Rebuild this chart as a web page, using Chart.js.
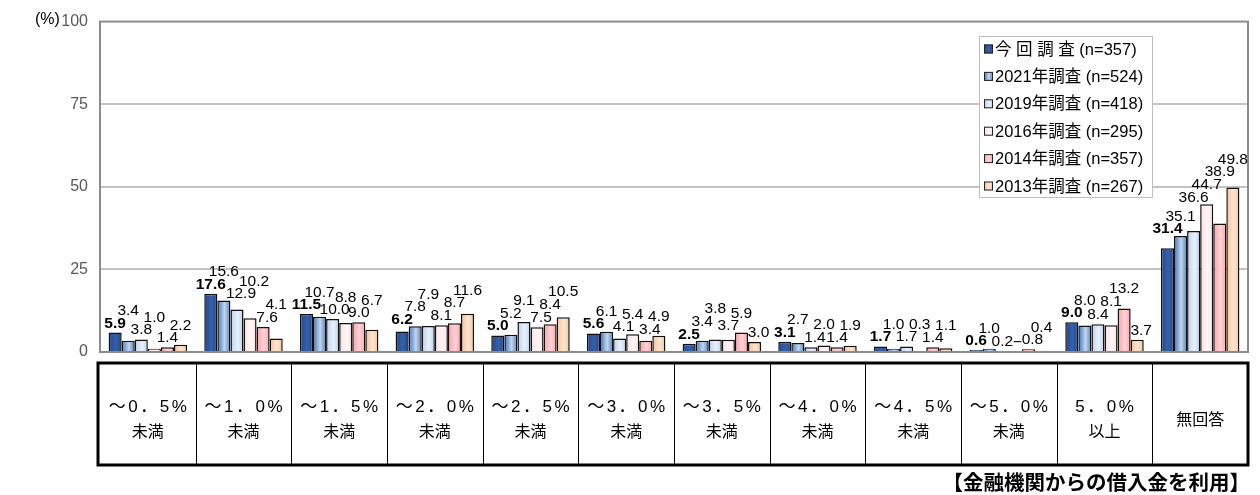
<!DOCTYPE html>
<html><head><meta charset="utf-8">
<script src="https://cdn.jsdelivr.net/npm/chart.js@4.4.1/dist/chart.umd.min.js"></script>
<style>html,body{margin:0;padding:0;background:#fff;} #wrap{position:relative;width:1260px;height:495px;}</style>
</head><body><div id="wrap"><canvas id="c" width="1260" height="495"></canvas></div>
<script>
// ---- data ----
const categories = [["～0．5%","未満"],["～1．0%","未満"],["～1．5%","未満"],["～2．0%","未満"],["～2．5%","未満"],["～3．0%","未満"],["～3．5%","未満"],["～4．0%","未満"],["～4．5%","未満"],["～5．0%","未満"],["5．0%","以上"],["無回答"]];
const seriesNames = ["今 回 調 査 (n=357)","2021年調査 (n=524)","2019年調査 (n=418)","2016年調査 (n=295)","2014年調査 (n=357)","2013年調査 (n=267)"];
const current = [5.9,17.6,11.5,6.2,5.0,5.6,2.5,3.1,1.7,0.6,9.0,31.4];
const y2021   = [3.4,15.6,10.7,7.8,5.2,6.1,3.4,2.7,1.0,1.0,8.0,35.1];
const y2019   = [3.8,12.9,10.0,7.9,9.1,4.1,3.8,1.4,1.7,0.2,8.4,36.6];
const y2016   = [1.0,10.2,8.8,8.1,7.5,5.4,3.7,2.0,0.3,null,8.1,44.7];
const y2014   = [1.4,7.6,9.0,8.7,8.4,3.4,5.9,1.4,1.4,0.8,13.2,38.9];
const y2013   = [2.2,4.1,6.7,11.6,10.5,4.9,3.0,1.9,1.1,0.4,3.7,49.8];
const yTicks = [0,25,50,75,100];
const unitLabel = "(%)";
const footnote = "【金融機関からの借入金を利用】";
const missingLabel = "−";

// ---- styles ----
const seriesData = [current,y2021,y2019,y2016,y2014,y2013];
const gradStops = [
  ["#25468a","#3561aa","#25468a"],
  ["#3f72b8","#c3d6ef","#4f7fc0"],
  ["#b9d0ee","#e9f1fb","#bcd2ee"],
  ["#fcdde0","#fff6f7","#fde0e3"],
  ["#ff9fa6","#ffd3d6","#ffa3aa"],
  ["#f7c095","#fde6d2","#f8c49b"]
];
const LABEL_FONT = '"Liberation Sans", Arial, sans-serif';
const JP_FONT = '"Liberation Sans", "Noto Sans CJK JP", sans-serif';

function makeGrad(ctx, x0, x1, stops){
  const g = ctx.createLinearGradient(x0,0,x1,0);
  g.addColorStop(0,stops[0]); g.addColorStop(0.55,stops[1]); g.addColorStop(1,stops[2]);
  return g;
}

const gradientPlugin = {
  id:'grad',
  beforeDatasetsDraw(chart){
    const ctx = chart.ctx;
    chart.data.datasets.forEach((ds,d)=>{
      chart.getDatasetMeta(d).data.forEach(el=>{
        if(!isFinite(el.x) || !isFinite(el.width)) return;
        const g = makeGrad(ctx, el.x-el.width/2, el.x+el.width/2, gradStops[d]);
        el.options = Object.assign({}, el.options, {backgroundColor:g});
      });
    });
  }
};

const framePlugin = {
  id:'frame',
  beforeDatasetsDraw(chart){
    const {ctx, chartArea:a} = chart;
    ctx.save();
    ctx.strokeStyle = '#8c8c8c'; ctx.lineWidth = 2;
    ctx.strokeRect(a.left, a.top, a.right-a.left, a.bottom-a.top);
    ctx.restore();
  }
};

const labelPlugin = {
  id:'labels',
  afterDatasetsDraw(chart){
    const ctx = chart.ctx, ys = chart.scales.y;
    const zero = ys.getPixelForValue(0);
    const placed = [];
    for(let d=0; d<seriesData.length; d++){
      chart.getDatasetMeta(d).data.forEach((el,i)=>{
        if(seriesData[d][i]==null || !isFinite(el.y)) return;
        placed.push({l:el.x-el.width/2, r:el.x+el.width/2, t:el.y-1, b:zero});
      });
    }
    const hit = (b)=> placed.some(p => b.l < p.r && b.r > p.l && b.t < p.b + 1 && b.b + 1 > p.t);
    ctx.save();
    ctx.textAlign='center'; ctx.textBaseline='alphabetic'; ctx.fillStyle='#000';
    for(let i=0;i<categories.length;i++){
      for(let d=0; d<seriesData.length; d++){
        const el = chart.getDatasetMeta(d).data[i];
        const v = seriesData[d][i];
        const txt = v==null ? missingLabel : v.toFixed(1);
        ctx.font = (d===0?'bold ':'') + '15.5px ' + LABEL_FONT;
        const w = ctx.measureText(txt).width;
        const top = v==null ? zero : el.y;
        const mk = (cx, by)=>({l:cx-w/2+1, r:cx+w/2-1, t:by-11, b:by});
        let x = el.x, yb = top - 5, box = null;
        search:
        for(let dy=0; dy<120; dy++){
          for(const dx of [0,2,-2,4]){
            const b = mk(el.x+dx, top-5-dy);
            if(!hit(b)){ x = el.x+dx; yb = top-5-dy; box=b; break search; }
          }
        }
        if(!box) box = mk(x,yb);
        placed.push(box);
        ctx.fillText(txt, x, yb);
      }
    }
    ctx.restore();
  }
};

const tablePlugin = {
  id:'table',
  afterDraw(chart){
    const {ctx, chartArea:a} = chart;
    const xs = chart.scales.x;
    const n = categories.length;
    const cw = (a.right - a.left)/n;
    const top = 363, bottom = 465, left = a.left-2, right = a.right;
    ctx.save();
    ctx.strokeStyle='#000';
    ctx.lineWidth = 1;
    for(let i=1;i<n;i++){
      const x = Math.round(xs.getPixelForValue(i) - cw/2)+0.5;
      ctx.beginPath(); ctx.moveTo(x, top); ctx.lineTo(x, bottom); ctx.stroke();
    }
    ctx.lineWidth = 3;
    ctx.strokeRect(left, top, right-left, bottom-top);
    ctx.fillStyle='#000'; ctx.textAlign='center'; ctx.textBaseline='middle';
    const mid = 419;
    categories.forEach((lines,i)=>{
      const cx = xs.getPixelForValue(i);
      const lh = 23;
      const y0 = mid - (lines.length-1)*lh/2;
      lines.forEach((t,k)=>{
        const spaced = /[0-9]/.test(t);
        if(spaced){
          ctx.font = '17px "Liberation Sans", "Noto Sans CJK JP", sans-serif';
          ctx.letterSpacing = '2.5px';
        } else {
          ctx.font = '16px "Noto Sans CJK JP", sans-serif';
          ctx.letterSpacing = '0px';
        }
        ctx.fillText(t, cx + (spaced?1.25:0), y0 + k*lh);
      });
    });
    ctx.letterSpacing = '0px';
    ctx.textAlign='right'; ctx.textBaseline='middle';
    ctx.font = 'bold 20.5px "Noto Sans CJK JP", sans-serif';
    ctx.fillText(footnote, 1250, 482);
    ctx.textAlign='left';
    ctx.font = '16px "Liberation Sans", sans-serif';
    ctx.fillText(unitLabel, 35, 20);
    const lx=979, ly=36, lw=173, lhB=161;
    ctx.fillStyle='#fff'; ctx.fillRect(lx,ly,lw,lhB);
    ctx.strokeStyle='#bfbfbf'; ctx.lineWidth=1;
    ctx.strokeRect(lx+0.5,ly+0.5,lw,lhB);
    ctx.font = '16.5px ' + JP_FONT;
    ctx.textBaseline='middle'; ctx.textAlign='left';
    seriesNames.forEach((name,d)=>{
      const cy = ly + 13 + d*27.4;
      ctx.fillStyle = makeGrad(ctx, lx+5, lx+14, gradStops[d]);
      ctx.fillRect(lx+5, cy-4.5, 9, 9);
      ctx.strokeStyle='#222'; ctx.lineWidth=1;
      ctx.strokeRect(lx+5.5, cy-4, 8, 8);
      ctx.fillStyle='#000';
      ctx.fillText(name, lx+16, cy+1);
    });
    ctx.restore();
  }
};

new Chart(document.getElementById('c'), {
  type:'bar',
  data:{
    labels: categories.map(c=>c.join('')),
    datasets: seriesNames.map((name,d)=>({
      label:name, data:seriesData[d],
      backgroundColor: gradStops[d][1],
      borderColor:'#111', borderWidth:1.5,
      categoryPercentage:0.82, barPercentage:1.0
    }))
  },
  options:{
    responsive:false, animation:false, devicePixelRatio:1,
    layout:{padding:{top:19,right:12,bottom:143,left:0}},
    plugins:{legend:{display:false}, tooltip:{enabled:false}},
    scales:{
      x:{display:false},
      y:{
        min:0,max:100,
        afterFit(s){ s.width = 100; },
        afterBuildTicks(s){ s.ticks = yTicks.map(v=>({value:v})); },
        border:{display:false},
        grid:{drawTicks:false, lineWidth:2, color:(c)=> (c.tick && (c.tick.value===0||c.tick.value===100)) ? 'rgba(0,0,0,0)' : '#c3c3c3'},
        ticks:{padding:12, color:'#595959', font:{family:'"Liberation Sans", Arial, sans-serif', size:16}}
      }
    }
  },
  plugins:[gradientPlugin, framePlugin, labelPlugin, tablePlugin]
});
</script>
</body></html>
